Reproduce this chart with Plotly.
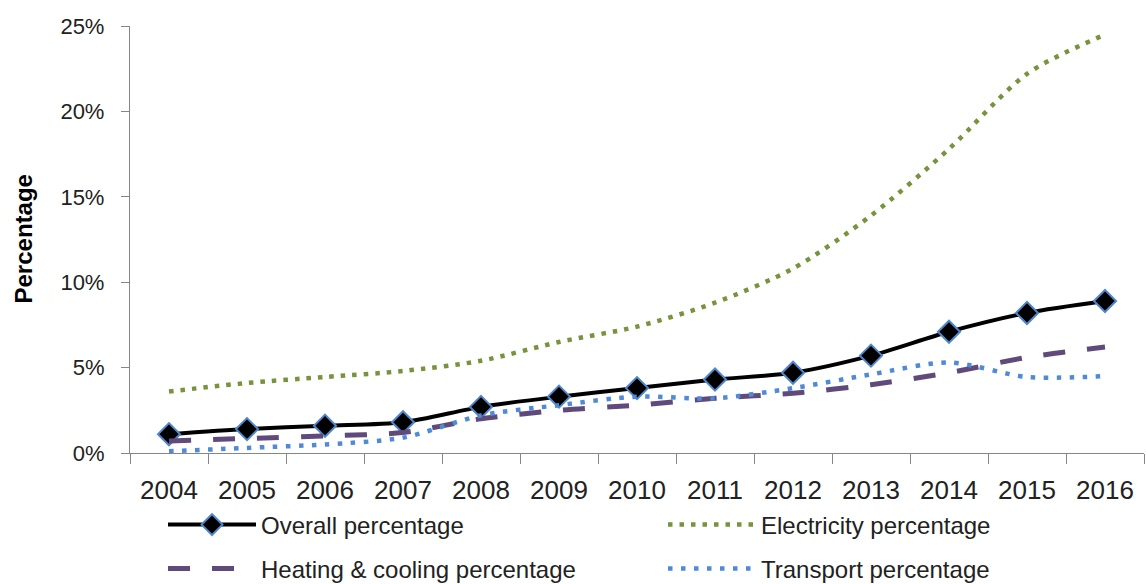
import plotly.graph_objects as go

years = ["2004", "2005", "2006", "2007", "2008", "2009", "2010",
         "2011", "2012", "2013", "2014", "2015", "2016"]
overall = [1.1, 1.4, 1.6, 1.8, 2.7, 3.3, 3.8, 4.3, 4.7, 5.7, 7.1, 8.2, 8.9]
electricity = [3.6, 4.1, 4.45, 4.8, 5.4, 6.5, 7.4, 8.8, 10.8, 13.9, 17.8, 22.2, 24.5]
heating = [0.7, 0.85, 1.0, 1.2, 2.0, 2.5, 2.8, 3.2, 3.5, 4.0, 4.7, 5.6, 6.2]
transport = [0.1, 0.3, 0.5, 0.9, 2.2, 2.8, 3.3, 3.2, 3.8, 4.6, 5.3, 4.45, 4.5]

def frac(v):
    return [x / 100 for x in v]

W, H = 1146, 584
L, R, T, B = 130, 2, 26, 131
PW = W - L - R

fig = go.Figure()
fig.add_trace(go.Scatter(
    x=years, y=frac(overall), name="Overall percentage", mode="lines+markers",
    line=dict(color="black", width=4, shape="spline", smoothing=0.8),
    marker=dict(symbol="diamond", size=17, color="black",
                line=dict(color="#4f86cc", width=2)),
    legend="legend"))
fig.add_trace(go.Scatter(
    x=years, y=frac(electricity), name="Electricity percentage", mode="lines",
    line=dict(color="#77933c", width=4.5, dash="4.5px,7px", shape="spline", smoothing=0.8),
    legend="legend"))
fig.add_trace(go.Scatter(
    x=years, y=frac(heating), name="Heating & cooling percentage", mode="lines",
    line=dict(color="#604a7b", width=5, dash="22px,22px", shape="spline", smoothing=0.8),
    legend="legend2"))
fig.add_trace(go.Scatter(
    x=years, y=frac(transport), name="Transport percentage", mode="lines",
    line=dict(color="#4f8ad8", width=4.5, dash="4.5px,8.5px", shape="spline", smoothing=0.8),
    legend="legend2"))

leg_common = dict(orientation="h", xref="paper", yref="container",
                  xanchor="left", yanchor="middle",
                  x=(163 - L) / PW, entrywidth=397, entrywidthmode="pixels",
                  itemwidth=88, bgcolor="rgba(0,0,0,0)",
                  font=dict(family="Liberation Sans, Arial, sans-serif", size=24, color="#222222"))

fig.update_layout(
    width=W, height=H,
    margin=dict(l=L, r=R, t=T, b=B, autoexpand=False),
    paper_bgcolor="white", plot_bgcolor="white",
    font=dict(family="Liberation Sans, Arial, sans-serif", color="#222222"),
    legend=dict(leg_common, y=1 - 525 / H),
    legend2=dict(leg_common, y=1 - 569 / H),
    xaxis=dict(type="category", range=[-0.5, 12.5], tickson="boundaries",
               ticks="outside", ticklen=10, tickcolor="#868686", tickwidth=1.3,
               showline=True, linecolor="#868686", linewidth=1.3,
               showgrid=False, zeroline=False, ticklabelstandoff=14,
               tickfont=dict(size=26, color="#222222")),
    yaxis=dict(range=[0, 0.25], dtick=0.05, tickformat=".0%",
               ticks="outside", ticklen=8, tickcolor="#868686", tickwidth=1.3,
               showline=True, linecolor="#868686", linewidth=1.3,
               showgrid=False, zeroline=False, ticklabelstandoff=12,
               tickfont=dict(size=22, color="#222222")),
    annotations=[dict(text="<b>Percentage</b>", textangle=-90,
                      xref="paper", yref="paper", x=(23 - L) / PW, y=0.5,
                      xanchor="center", yanchor="middle", showarrow=False,
                      font=dict(family="Liberation Sans, Arial, sans-serif", size=24, color="black"))],
)

fig.write_html("out.html")
